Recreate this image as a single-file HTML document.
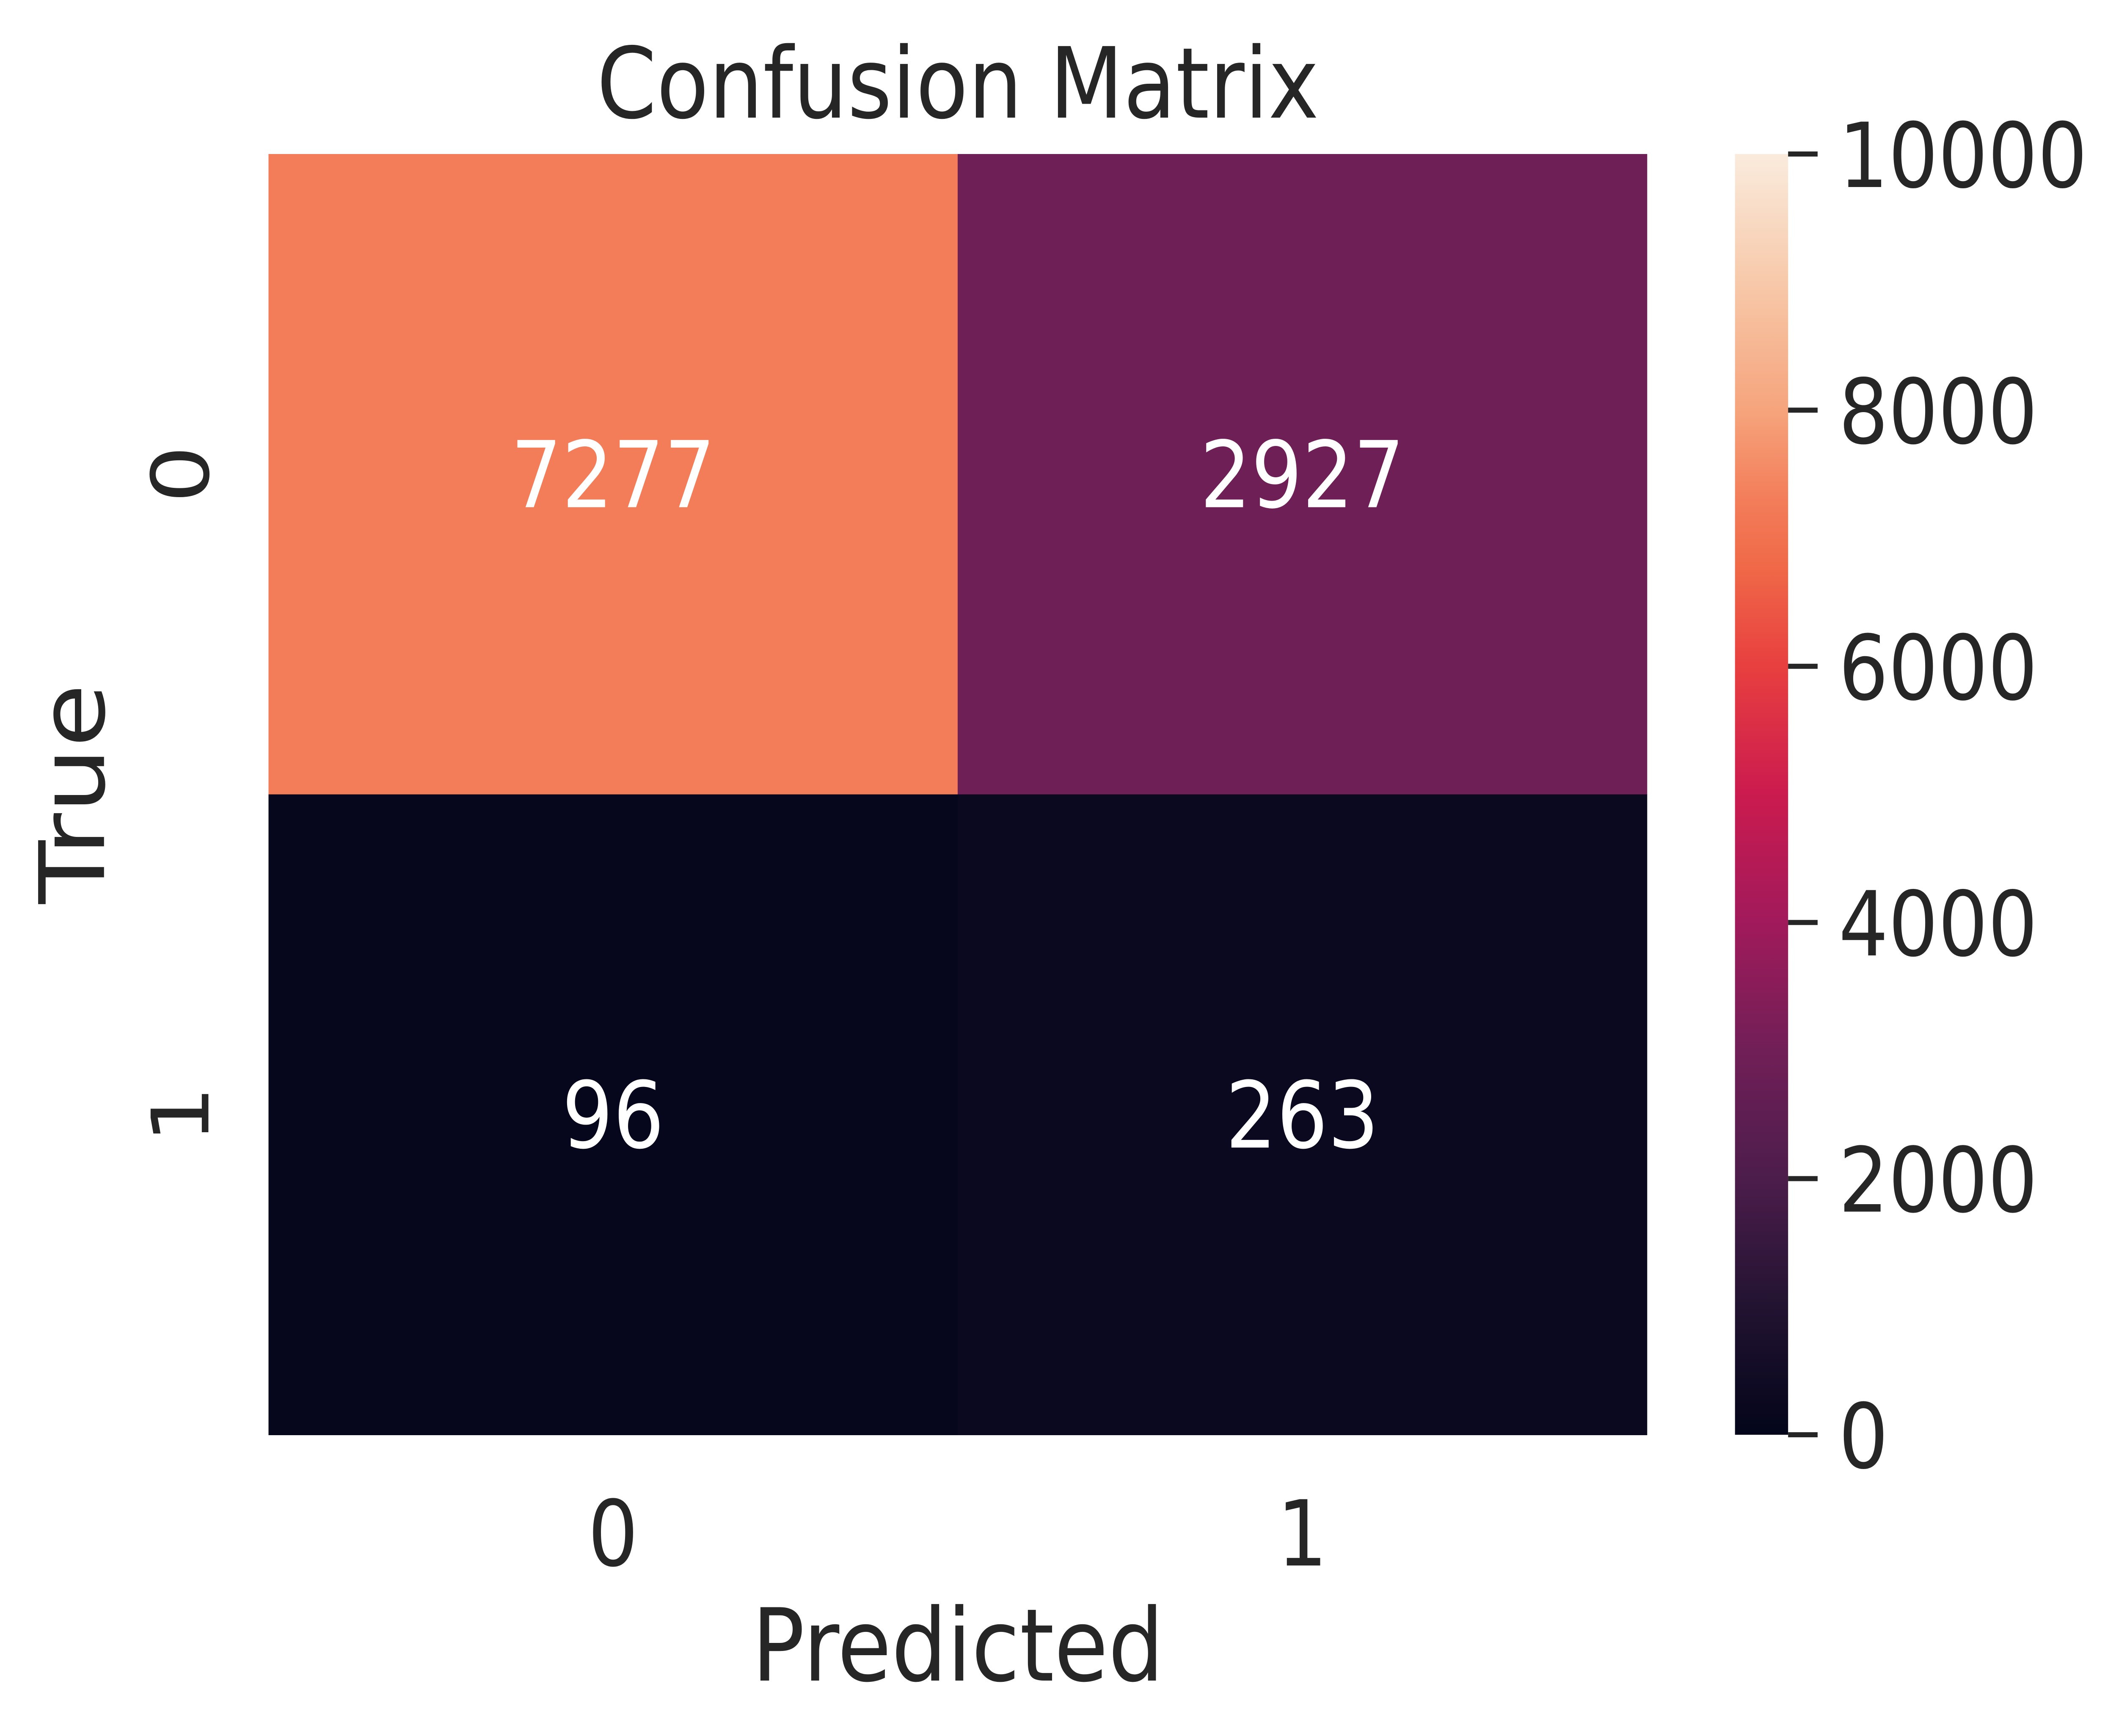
<!DOCTYPE html>
<html><head><meta charset="utf-8"><style>
html,body{margin:0;padding:0;background:#fff;width:100%;height:100%;overflow:hidden;}
svg{display:block;width:100vw;height:100vh;font-family:"DejaVu Sans","Liberation Sans",sans-serif;}
</style></head><body>
<svg id="chart" viewBox="0 0 5737 4103" preserveAspectRatio="none" xmlns="http://www.w3.org/2000/svg">
<defs>
<linearGradient id="rocket" x1="0" y1="1" x2="0" y2="0"></linearGradient>
</defs>
<text x="2597" y="278" font-size="232" fill="#262626" text-anchor="middle">Confusion Matrix</text>
<g id="cells"></g>
<g id="colorbar"></g>
<text x="2597" y="3972" font-size="238" fill="#262626" text-anchor="middle">Predicted</text>
<text transform="translate(282,1876) rotate(-90)" font-size="245" fill="#262626" text-anchor="middle">True</text>
</svg>
<script>
const rows = ["0","1"];
const cols = ["0","1"];
const values = [[7277, 2927],[96, 263]];
const cbTicks = [0, 2000, 4000, 6000, 8000, 10000];
const vmin = 0, vmax = 10000;
const stops = [[0,"#03051a"],[0.1,"#221331"],[0.2,"#4c1d4b"],[0.3,"#711f57"],[0.4,"#a11a5b"],[0.5,"#cb1b4f"],[0.6,"#e83f3f"],[0.68,"#f06a48"],[0.73,"#f37d5a"],[0.8,"#f6a47c"],[0.9,"#f7c9aa"],[1,"#faebdd"]];
const NS="http://www.w3.org/2000/svg";
const svg=document.getElementById('chart');
const X0=728,X1=4465,Y0=364,Y1=3391;
const cw=(X1-X0)/cols.length, ch=(Y1-Y0)/rows.length;
function hex(h){return [1,3,5].map(i=>parseInt(h.substr(i,2),16));}
function color(v){
  let t=Math.max(0,Math.min(1,(v-vmin)/(vmax-vmin)));
  for(let i=1;i<stops.length;i++){
    if(t<=stops[i][0]){
      const a=stops[i-1],b=stops[i];const f=(t-a[0])/(b[0]-a[0]);
      const ca=hex(a[1]),cb=hex(b[1]);
      return 'rgb('+ca.map((c,k)=>Math.round(c+(cb[k]-c)*f)).join(',')+')';
    }
  }
  return stops[stops.length-1][1];
}
function mk(tag,attrs,parent){const e=document.createElementNS(NS,tag);for(const k in attrs)e.setAttribute(k,attrs[k]);parent.appendChild(e);return e;}
const cells=document.getElementById('cells');
rows.forEach((r,i)=>{cols.forEach((c,j)=>{
  const rect=mk('rect',{x:X0+j*cw,y:Y0+i*ch,width:cw+1,height:ch+1,fill:color(values[i][j])},cells);
  
  
  const t=mk('text',{x:X0+(j+0.5)*cw,y:Y0+(i+0.5)*ch+78,'font-size':218,fill:'#ffffff','text-anchor':'middle'},cells);
  t.textContent=values[i][j];
  
  
});});
cols.forEach((c,j)=>{
  const t=mk('text',{x:X0+(j+0.5)*cw,y:3700,'font-size':215,fill:'#262626','text-anchor':'middle'},svg);
  t.textContent=c;
  
  
});
rows.forEach((r,i)=>{
  const cy=Y0+(i+0.5)*ch;
  const t=mk('text',{transform:'translate(565,'+cy+') rotate(-90)','font-size':215,fill:'#262626','text-anchor':'middle'},svg);
  t.textContent=r;
  
  
});
const grad=document.getElementById('rocket');
stops.forEach(s=>mk('stop',{offset:s[0],'stop-color':s[1]},grad));
const cb=document.getElementById('colorbar');
const CX0=4704,CX1=4848;
const cbr=mk('rect',{x:CX0,y:Y0,width:CX1-CX0,height:Y1-Y0,fill:'url(#rocket)'},cb);


cbTicks.forEach(v=>{
  const y=Y1-(v-vmin)/(vmax-vmin)*(Y1-Y0);
  const l=mk('line',{x1:CX1,x2:CX1+80,y1:y,y2:y,stroke:'#262626','stroke-width':12},cb);
  
  
  const t=mk('text',{x:4985,y:y+78,'font-size':212,fill:'#262626'},cb);
  t.textContent=v;
  
  
});
</script>
</body></html>
